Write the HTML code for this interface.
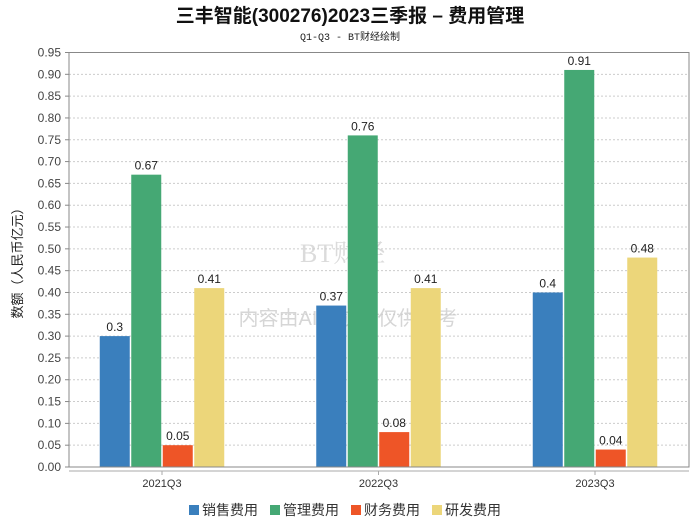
<!DOCTYPE html>
<html><head><meta charset="utf-8"><style>
body{margin:0;background:#fff;font-family:"Liberation Sans","Noto Sans CJK SC",sans-serif}
</style></head><body>
<svg id="c" width="700" height="524" xmlns="http://www.w3.org/2000/svg">
<text x="350" y="22" text-anchor="middle" font-size="19" font-weight="bold" fill="#111" font-family="Liberation Sans,Noto Sans CJK SC,sans-serif">三丰智能(300276)2023三季报 – 费用管理</text>
<text x="350" y="40" text-anchor="middle" font-size="10" fill="#222" font-family="Liberation Mono,Noto Sans CJK SC,monospace">Q1-Q3 - BT财经绘制</text>
<text x="0" y="0" transform="translate(22,260) rotate(-90)" text-anchor="middle" font-size="13" fill="#222">数额（人民币亿元）</text>
<text x="348" y="325" text-anchor="middle" font-size="20" fill="#ccc" opacity="0.8">内容由AI生成，仅供参考</text>
<text x="300" y="262" font-size="26" fill="#ccc" opacity="0.7" font-family="Liberation Serif,Noto Serif CJK SC,serif">BT财经</text>
<g id="grid"></g><g id="bars"></g><g id="axes"></g><g id="legend"></g>
</svg>
<script>
const categories=["2021Q3","2022Q3","2023Q3"];
const seriesNames=["销售费用","管理费用","财务费用","研发费用"];
const colors=["#3a7fbd","#45a874","#ee5527","#ecd67a"];
const sales=[0.3,0.37,0.4];
const admin=[0.67,0.76,0.91];
const finance=[0.05,0.08,0.04];
const rnd=[0.41,0.41,0.48];
const yTicks=[0,0.05,0.1,0.15,0.2,0.25,0.3,0.35,0.4,0.45,0.5,0.55,0.6,0.65,0.7,0.75,0.8,0.85,0.9,0.95];
const series=[sales,admin,finance,rnd];
const L=69,R=689,T=52.5,B=467,yMax=0.95;
const NS="http://www.w3.org/2000/svg";
function y(v){return B-(v/yMax)*(B-T);}
const bandStart=53.75,bw=216.5;
function mk(t,a,p){const e=document.createElementNS(NS,t);for(const k in a)e.setAttribute(k,a[k]);p.appendChild(e);return e;}
const g=document.getElementById('grid'),ba=document.getElementById('bars'),ax=document.getElementById('axes'),lg=document.getElementById('legend');
yTicks.forEach(t=>{
 const l=mk('line',{x1:L,x2:R,y1:y(t),y2:y(t),stroke:'#ccc','stroke-dasharray':'2,2'},g);
 
 
 const tx=mk('text',{x:L-8,y:y(t)+4,'text-anchor':'end','font-size':12,fill:'#444'},ax);
 tx.textContent=t.toFixed(2);
 
 
 mk('line',{x1:L-4,x2:L,y1:y(t),y2:y(t),stroke:'#888'},ax);
});
mk('rect',{x:L,y:T,width:R-L,height:B-T,fill:'none',stroke:'#888'},ax);
mk('line',{x1:L,x2:R,y1:471,y2:471,stroke:'#aaa'},ax);
const barW=30,gap=1.5,gw=4*barW+3*gap;
categories.forEach((c,i)=>{
 const cx=bandStart+bw*(i+0.5);
 const x0=cx-gw/2;
 series.forEach((s,j)=>{
  const v=s[i],x=x0+j*(barW+gap);
  const r=mk('rect',{x:x,y:y(v),width:barW,height:B-y(v),fill:colors[j]},ba);
  
  
  const t=mk('text',{x:x+barW/2,y:y(v)-5,'text-anchor':'middle','font-size':12,fill:'#222'},ba);
  t.textContent=String(v);
  
  
 });
 mk('line',{x1:cx,x2:cx,y1:471,y2:475,stroke:'#aaa'},ax);
 const t=mk('text',{x:cx,y:487,'text-anchor':'middle','font-size':11,fill:'#333'},ax);
 t.textContent=c;
 
 
});
let lx=189;
seriesNames.forEach((n,j)=>{
 const r=mk('rect',{x:lx,y:505,width:10,height:10,fill:colors[j]},lg);
 
 
 const t=mk('text',{x:lx+13,y:515,'font-size':14,fill:'#333'},lg);
 t.textContent=n;
 
 
 lx+=81;
});
</script>
</body></html>
